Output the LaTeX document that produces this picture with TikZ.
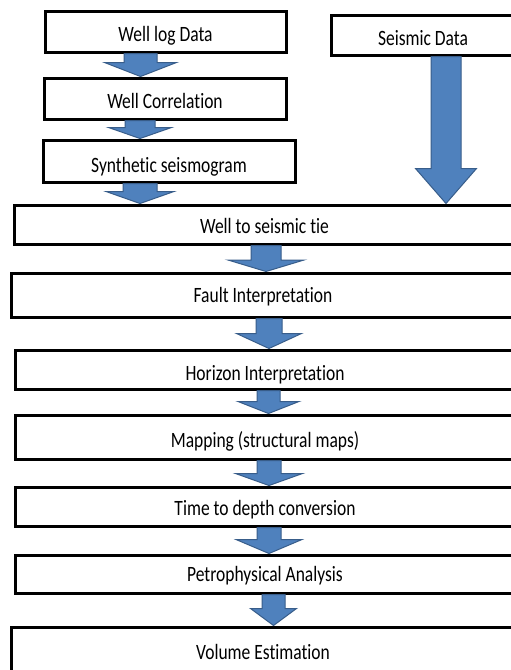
\documentclass[tikz,border=0pt]{standalone}
\usepackage{fontspec}
\usepackage{graphicx}
\usetikzlibrary{calc}
\newfontfamily\boxfont{Carlito}[Ligatures=NoCommon]
\definecolor{arrblue}{RGB}{79, 129, 189}
\definecolor{arredge}{RGB}{56, 93, 138}
% text is a little taller than wide in the picture
\newcommand{\lbl}[1]{\scalebox{1}[1.25]{#1}}
% block arrow: source, target, x centre, shaft half width, head half width, head length
\newcommand{\blockarrow}[6]{%
  \path[blockarr] let \p1=(#1.south), \p2=(#2.north) in
    (#3pt-#4pt,\y1) -- (#3pt+#4pt,\y1) -- (#3pt+#4pt,\y2+#6pt) -- (#3pt+#5pt,\y2+#6pt)
    -- (#3pt,\y2) -- (#3pt-#5pt,\y2+#6pt) -- (#3pt-#4pt,\y2+#6pt) -- cycle;}

\begin{document}
\begin{tikzpicture}[x=1pt,y=-1pt,
  stepbox/.style={draw,line width=3pt,fill=white,inner sep=0pt,text depth=0pt,
    font={\boxfont\fontsize{17.5}{21}\selectfont}},
  blockarr/.style={fill=arrblue,draw=arredge,line width=1pt,line join=miter}]
\path[use as bounding box,fill=white] (0,0) rectangle (511,670);
\clip (0,0) rectangle (511,670);

% Well data column
\node[stepbox,minimum width=241,minimum height=41,text height=19pt] (wlog) at (165.5,31.5) {\lbl{Well log Data}};
\node[stepbox,minimum width=242,minimum height=41,text height=20pt] (corr) at (165,98.5) {\lbl{Well Correlation}};
\node[stepbox,minimum width=252,minimum height=42,text height=22pt] (synth) at (169,161) {\lbl{Synthetic seismogram}};

% Seismic data
\node[stepbox,minimum width=184,minimum height=40,text height=21pt] (seis) at (423,35) {\lbl{Seismic Data}};

% Main workflow
\node[stepbox,minimum width=501,minimum height=39,text height=18pt] (tie) at (264.5,224.5) {\lbl{Well to seismic tie}};
\node[stepbox,minimum width=504,minimum height=44,text height=14pt] (fault) at (263,295) {\lbl{Fault Interpretation}};
\node[stepbox,minimum width=500,minimum height=39,text height=21pt] (horizon) at (265,369.5) {\lbl{Horizon Interpretation}};
\node[stepbox,minimum width=500,minimum height=44,text height=20pt] (mapping) at (265,437) {\lbl{Mapping (structural maps)}};
\node[stepbox,minimum width=500,minimum height=39,text height=17pt] (depth) at (265,506.5) {\lbl{Time to depth conversion}};
\node[stepbox,minimum width=500,minimum height=38,text height=15pt] (petro) at (265,574) {\lbl{Petrophysical Analysis}};
\node[stepbox,minimum width=504,minimum height=46,text height=18pt] (volume) at (263,650) {\lbl{Volume Estimation}};

% Arrows
\blockarrow{wlog}{corr}{140.5}{16.5}{36}{14}
\blockarrow{corr}{synth}{140}{15}{31.5}{11}
\blockarrow{synth}{tie}{140}{17}{34}{12}
\blockarrow{seis}{tie}{446}{15}{30.5}{35}
\blockarrow{tie}{fault}{266}{15}{38}{11.5}
\blockarrow{fault}{horizon}{269}{13}{32.5}{15}
\blockarrow{horizon}{mapping}{268.5}{11.5}{30.5}{12}
\blockarrow{mapping}{depth}{269}{12}{33.5}{12}
\blockarrow{depth}{petro}{269}{12}{33}{14}
\blockarrow{petro}{volume}{273.5}{11.5}{23}{17}
\end{tikzpicture}
\end{document}
